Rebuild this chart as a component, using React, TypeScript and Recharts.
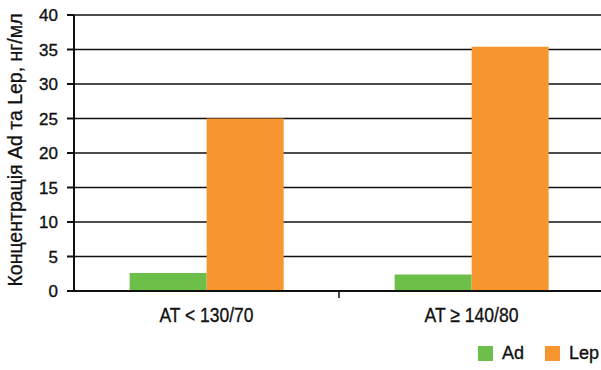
import { BarChart, Bar, XAxis, YAxis, CartesianGrid, Legend, Label } from "recharts";

const categories = ["AT < 130/70", "AT ≥ 140/80"];
const adValues = [2.6, 2.4];
const lepValues = [25, 35.4];
const yTicks = [0, 5, 10, 15, 20, 25, 30, 35, 40];
const seriesNames = ["Ad", "Lep"];
const yTitle = "Концентрація Ad та Lep, нг/мл";

const data = categories.map((name, i) => ({ name, ad: adValues[i], lep: lepValues[i] }));

const FONT = "'Liberation Sans', Arial, sans-serif";
const INK = "#111";
const GREEN = "#6cc04a";
const ORANGE = "#f7962f";

const CHART_W = 604;
const MARGIN_LEFT = 24;
const Y_WIDTH = 50;
const PLOT_W = CHART_W - MARGIN_LEFT - Y_WIDTH;

function XTick(props: any) {
  const { x, y, payload, index } = props;
  return (
    <g>
      {index === 0 && (
        <line
          x1={x + PLOT_W / categories.length / 2}
          x2={x + PLOT_W / categories.length / 2}
          y1={y - 16}
          y2={y - 9}
          stroke={INK}
          strokeWidth={1.5}
        />
      )}
      <text
        x={x}
        y={y}
        dy="0.72em"
        textAnchor="middle"
        fontSize={21}
        fill={INK}
        stroke={INK}
        strokeWidth={0.35}
        fontFamily={FONT}
        textLength={94}
        lengthAdjust="spacingAndGlyphs"
      >
        {payload.value}
      </text>
    </g>
  );
}

function YTick(props: any) {
  const { x, y, payload } = props;
  return (
    <text x={x} y={y} dy="0.36em" textAnchor="end" fontSize={17} fill={INK} stroke={INK} strokeWidth={0.35} fontFamily={FONT}>
      {payload.value}
    </text>
  );
}

function LegendBox() {
  const colors = [GREEN, ORANGE];
  return (
    <div style={{ display: "flex", height: 20, alignItems: "center", fontFamily: FONT, fontSize: 18, color: INK, WebkitTextStroke: "0.35px #111" }}>
      {seriesNames.map((n, i) => (
        <div key={n} style={{ display: "flex", alignItems: "center", marginRight: i === 0 ? 21 : 0 }}>
          <span style={{ width: 15, height: 15, background: colors[i], display: "inline-block", marginRight: 9 }} />
          <span>{n}</span>
        </div>
      ))}
    </div>
  );
}

export default function App() {
  return (
    <div style={{ position: "absolute", left: 0, top: 0, width: 601, height: 370, overflow: "hidden", background: "#fff" }}>
      <BarChart
        width={CHART_W}
        height={370}
        data={data}
        margin={{ top: 15, right: 0, left: MARGIN_LEFT, bottom: 29 }}
        barCategoryGap="21%"
        barGap={0}
      >
        <CartesianGrid vertical={false} stroke={INK} strokeWidth={1.5} />
        <XAxis
          dataKey="name"
          axisLine={{ stroke: INK, strokeWidth: 2 }}
          tickLine={false}
          tickSize={6}
          tickMargin={10}
          height={30}
          tick={<XTick />}
          interval={0}
        />
        <YAxis
          domain={[0, 40]}
          ticks={yTicks}
          width={Y_WIDTH}
          axisLine={{ stroke: INK, strokeWidth: 2 }}
          tickLine={{ stroke: INK, strokeWidth: 2 }}
          tickSize={7}
          tickMargin={9}
          tick={<YTick />}
        >
          <Label
            content={(p: any) => {
              const vb = p.viewBox;
              const cy = vb.y + vb.height / 2 - 3;
              return (
                <text
                  x={15}
                  y={cy}
                  transform={`rotate(-90, 15, ${cy})`}
                  textAnchor="middle"
                  dominantBaseline="central"
                  fontSize={20}
                  fill={INK}
                  stroke={INK}
                  strokeWidth={0.3}
                  fontFamily={FONT}
                  textLength={273}
                  lengthAdjust="spacingAndGlyphs"
                >
                  {yTitle}
                </text>
              );
            }}
          />
        </YAxis>
        <Legend
          verticalAlign="bottom"
          align="right"
          content={<LegendBox />}
          wrapperStyle={{ left: 478, top: 343, width: 130, height: 20 }}
        />
        <Bar dataKey="ad" name="Ad" fill={GREEN} isAnimationActive={false} />
        <Bar dataKey="lep" name="Lep" fill={ORANGE} isAnimationActive={false} />
      </BarChart>
    </div>
  );
}
